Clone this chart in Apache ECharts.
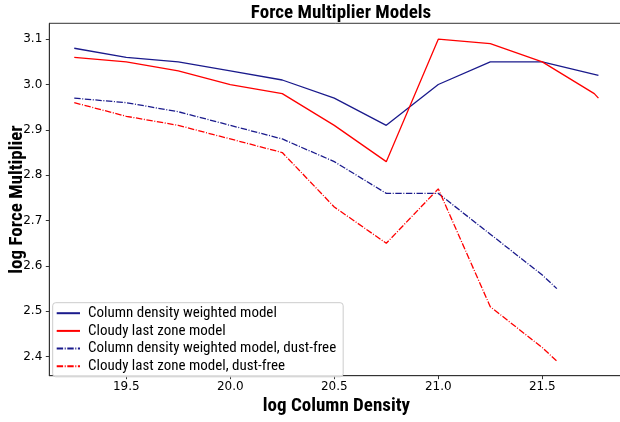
<!DOCTYPE html>
<html>
<head>
<meta charset="utf-8">
<script src="https://cdn.jsdelivr.net/npm/echarts@6/dist/echarts.min.js"></script>
<style>
html,body{margin:0;padding:0;background:#fff;}
#chart{width:620px;height:422px;}
</style>
</head>
<body>
<div id="chart"></div>
<script>
// ---- data ----
const seriesNames = [
  'Column density weighted model',
  'Cloudy last zone model',
  'Column density weighted model, dust-free',
  'Cloudy last zone model, dust-free'
];
const xBlueSolid = [19.25, 19.5, 19.75, 20.0, 20.25, 20.5, 20.75, 21.0, 21.25, 21.5, 21.77];
const yBlueSolid = [3.08, 3.06, 3.05, 3.03, 3.01, 2.97, 2.91, 3.00, 3.05, 3.05, 3.02];
const xRedSolid = [19.25, 19.5, 19.75, 20.0, 20.25, 20.5, 20.75, 21.0, 21.25, 21.5, 21.75, 21.77];
const yRedSolid = [3.06, 3.05, 3.03, 3.00, 2.98, 2.91, 2.83, 3.10, 3.09, 3.05, 2.98, 2.97];
const xDustFree = [19.25, 19.5, 19.75, 20.0, 20.25, 20.5, 20.75, 21.0, 21.25, 21.5, 21.57];
const yBlueDust = [2.97, 2.96, 2.94, 2.91, 2.88, 2.83, 2.76, 2.76, 2.67, 2.58, 2.55];
const yRedDust = [2.96, 2.93, 2.91, 2.88, 2.85, 2.73, 2.65, 2.77, 2.51, 2.42, 2.39];
const xTicks = [19.5, 20.0, 20.5, 21.0, 21.5];
const yTicks = [2.4, 2.5, 2.6, 2.7, 2.8, 2.9, 3.0, 3.1];

const pairs = (xs, ys) => xs.map((x, i) => [x, ys[i]]);
const condensed = '"Liberation Sans Narrow", "Roboto Condensed", "DejaVu Sans Condensed", Roboto, sans-serif';
const dashDot = [6.4, 1.6, 1, 1.6];

const chart = echarts.init(document.getElementById('chart'), null, {renderer: 'canvas'});
const mk = (name, data, color, type) => ({
  name: name, type: 'line', data: data, symbol: 'none', showSymbol: false,
  lineStyle: {color: color, width: 1.3, type: type}, itemStyle: {color: color},
  animation: false, z: 3
});
chart.setOption({
  animation: false,
  backgroundColor: '#fff',
  title: {
    text: 'Force Multiplier Models', left: 336, top: -1, textAlign: 'center',
    textStyle: {fontFamily: condensed, fontWeight: 'bold', fontSize: 19, color: '#000'}
  },
  grid: {left: 49.3, top: 23.3, right: -3.4, bottom: 46.3, show: true,
    borderColor: '#333', borderWidth: 1, outerBoundsMode: 'none', containLabel: false},
  legend: {
    orient: 'vertical', left: 52.7, top: 302.7,
    padding: [3, 7, 3, 3], itemGap: 2.7, itemWidth: 23.3, itemHeight: 12,
    itemStyle: {opacity: 0},
    backgroundColor: 'rgba(255,255,255,0.85)', borderColor: '#cccccc', borderWidth: 1, borderRadius: 3,
    textStyle: {fontFamily: condensed, fontSize: 15, lineHeight: 14, color: '#000', padding: [0, 0, 0, 3]},
    data: seriesNames
  },
  xAxis: {
    type: 'value', min: 19.13, max: 21.89,
    name: 'log Column Density', nameLocation: 'middle', nameGap: 21, nameMoveOverlap: false,
    nameTextStyle: {fontFamily: condensed, fontWeight: 'bold', fontSize: 19, color: '#000'},
    axisLine: {show: true, lineStyle: {color: '#333', width: 1}},
    axisTick: {show: true, length: 3.5, lineStyle: {color: '#333'}, customValues: xTicks},
    axisLabel: {customValues: xTicks, margin: 5, fontFamily: '"DejaVu Sans"', fontSize: 12, color: '#000',
      formatter: v => Number(v).toFixed(1)},
    splitLine: {show: false}
  },
  yAxis: {
    type: 'value', min: 2.358, max: 3.135,
    name: 'log Force Multiplier', nameLocation: 'middle', nameGap: 23, nameRotate: 90, nameMoveOverlap: false,
    nameTextStyle: {fontFamily: condensed, fontWeight: 'bold', fontSize: 19, color: '#000'},
    axisLine: {show: true, lineStyle: {color: '#333', width: 1}},
    axisTick: {show: true, length: 3.5, lineStyle: {color: '#333'}, customValues: yTicks},
    axisLabel: {customValues: yTicks, margin: 7, fontFamily: '"DejaVu Sans"', fontSize: 12, color: '#000',
      formatter: v => Number(v).toFixed(1)},
    splitLine: {show: false}
  },
  series: [
    mk(seriesNames[0], pairs(xBlueSolid, yBlueSolid), '#1a1a8c', 'solid'),
    mk(seriesNames[1], pairs(xRedSolid, yRedSolid), '#ff0000', 'solid'),
    mk(seriesNames[2], pairs(xDustFree, yBlueDust), '#1a1a8c', dashDot),
    mk(seriesNames[3], pairs(xDustFree, yRedDust), '#ff0000', dashDot)
  ]
});
</script>
</body>
</html>
